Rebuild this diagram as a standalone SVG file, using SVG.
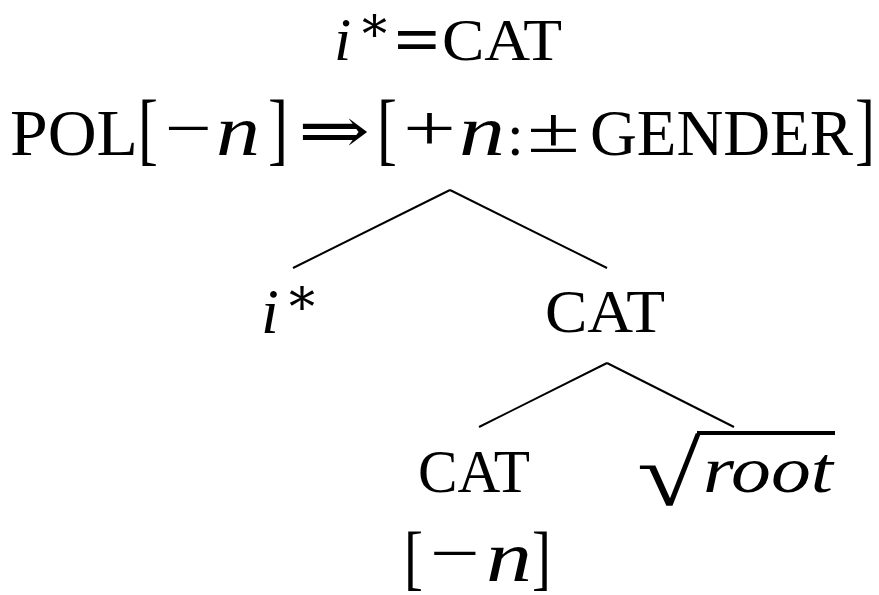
<svg xmlns="http://www.w3.org/2000/svg" width="879" height="595" viewBox="0 0 879 595">
<style>
text{font-family:"Liberation Serif","DejaVu Serif",serif;fill:#000}
.it{font-style:italic}
.br{font-size:80px}
.br2{font-size:72px}
.ast{font-family:"DejaVu Serif",serif}
.edge{stroke:#000;stroke-width:2;fill:none}
</style>
<rect width="879" height="595" fill="#fff"/>
<g id="edges">
<line class="edge" x1="450" y1="190" x2="293" y2="268"/>
<line class="edge" x1="450" y1="190" x2="607" y2="268"/>
<line class="edge" x1="607" y1="363" x2="479" y2="427"/>
<line class="edge" x1="607" y1="363" x2="734" y2="427"/>
</g>
<g id="root-node">
<text class="it" x="334" y="60" font-size="62">i</text>
<text class="ast" x="362" y="52" font-size="50">*</text>
<text x="394" y="62" font-size="68" font-weight="bold" textLength="46" lengthAdjust="spacingAndGlyphs">=</text>
<text x="442" y="60" font-size="59" textLength="120" lengthAdjust="spacingAndGlyphs">CAT</text>
<text x="10" y="155" font-size="65" textLength="128" lengthAdjust="spacingAndGlyphs">POL</text>
<text class="br" x="138" y="155" textLength="20" lengthAdjust="spacingAndGlyphs">[</text>
<text x="165" y="150" font-size="65" textLength="47" lengthAdjust="spacingAndGlyphs">−</text>
<text class="it" x="216" y="155" font-size="72" textLength="44" lengthAdjust="spacingAndGlyphs">n</text>
<text class="br" x="268" y="155" textLength="20" lengthAdjust="spacingAndGlyphs">]</text>
<text x="298" y="153" font-size="65" font-family="DejaVu Serif" textLength="72" lengthAdjust="spacingAndGlyphs">⇒</text>
<text class="br" x="377" y="155" textLength="20" lengthAdjust="spacingAndGlyphs">[</text>
<text x="403" y="150" font-size="65" textLength="53" lengthAdjust="spacingAndGlyphs">+</text>
<text class="it" x="459" y="155" font-size="72" textLength="46" lengthAdjust="spacingAndGlyphs">n</text>
<text x="507" y="155" font-size="60">:</text>
<text x="527" y="152" font-size="65" textLength="53" lengthAdjust="spacingAndGlyphs">±</text>
<text x="590" y="155" font-size="65" textLength="263" lengthAdjust="spacingAndGlyphs">GENDER</text>
<text class="br" x="855" y="155" textLength="20" lengthAdjust="spacingAndGlyphs">]</text>
</g>
<g id="istar">
<text class="it" x="261" y="333" font-size="64">i</text>
<text class="ast" x="289" y="325" font-size="52">*</text>
</g>
<g id="cat1">
<text x="545" y="332" font-size="62" textLength="120" lengthAdjust="spacingAndGlyphs">CAT</text>
</g>
<g id="cat2">
<text x="418" y="492" font-size="62" textLength="112" lengthAdjust="spacingAndGlyphs">CAT</text>
<text class="br2" x="404" y="581" textLength="19" lengthAdjust="spacingAndGlyphs">[</text>
<text x="430" y="575" font-size="65" textLength="50" lengthAdjust="spacingAndGlyphs">−</text>
<text class="it" x="486" y="581" font-size="72" textLength="46" lengthAdjust="spacingAndGlyphs">n</text>
<text class="br2" x="532" y="581" textLength="19" lengthAdjust="spacingAndGlyphs">]</text>
</g>
<g id="sqrt-root">
<text x="637" y="505" font-size="91" font-family="DejaVu Serif" textLength="64" lengthAdjust="spacingAndGlyphs">√</text>
<line x1="697" y1="433" x2="835" y2="433" stroke="#000" stroke-width="4"/>
<text class="it" x="703" y="492" font-size="66" textLength="130" lengthAdjust="spacingAndGlyphs">root</text>
</g>
</svg>
